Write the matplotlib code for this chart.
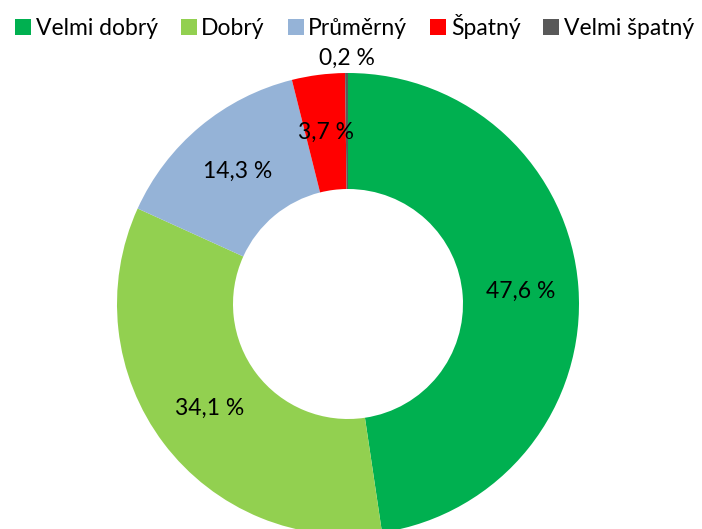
import numpy as np
import matplotlib
matplotlib.use("Agg")
import matplotlib.pyplot as plt
from matplotlib.patches import Patch

plt.rcParams['font.family'] = ['Lato', 'DejaVu Sans']

categories = ["Velmi dobrý", "Dobrý", "Průměrný", "Špatný", "Velmi špatný"]
values = [47.6, 34.1, 14.3, 3.7, 0.2]
colors = ["#00B050", "#92D050", "#95B3D7", "#FF0000", "#595959"]

W, H = 702, 529
fig = plt.figure(figsize=(W / 100, H / 100), dpi=100)
ax = fig.add_axes([0, 0, 1, 1])

cx, cy, R = 348, H - 304, 231
wedges, _ = ax.pie(values, colors=colors, startangle=90, counterclock=False,
                   center=(cx, cy), radius=R, frame=True,
                   wedgeprops=dict(width=R - 115, linewidth=0))
ax.set_xlim(0, W)
ax.set_ylim(0, H)
ax.set_aspect("equal")
ax.axis("off")

# data labels, small slices pushed outside like Excel does
for w, v in zip(wedges, values):
    ang = np.deg2rad((w.theta1 + w.theta2) / 2)
    r = R * 1.065 if v < 1 else 173
    x = cx + r * np.cos(ang)
    y = cy + r * np.sin(ang)
    ax.text(x, y, f"{v:.1f} %".replace(".", ","), ha="center", va="center",
            fontsize=16.5, color="black")

handles = [Patch(facecolor=c, edgecolor="none") for c in colors]
fig.legend(handles, categories, loc="upper center", bbox_to_anchor=(0.505, 1.003),
           ncol=5, frameon=False, fontsize=16.5, handlelength=0.7, handleheight=0.7,
           handletextpad=0.2, columnspacing=1.0, borderpad=0.2)

fig.savefig("out.png", dpi=100)
